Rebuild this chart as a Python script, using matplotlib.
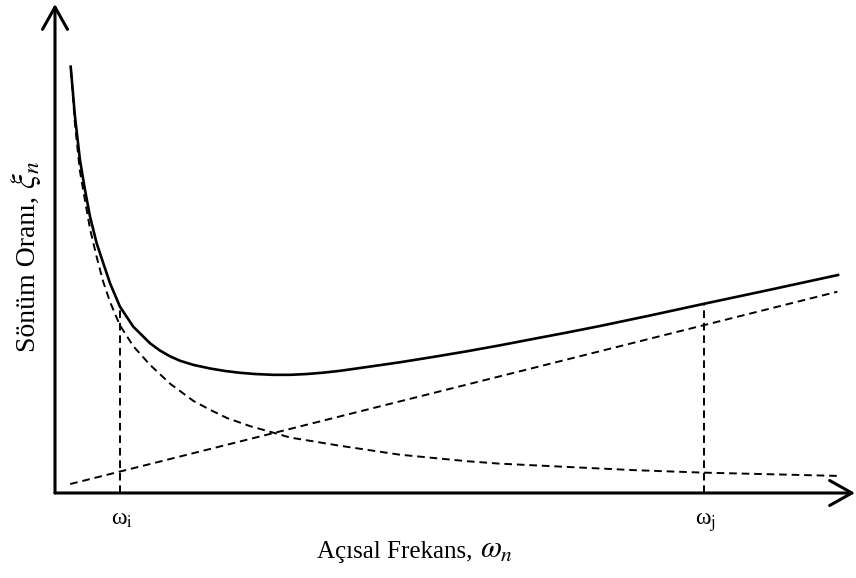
import matplotlib
matplotlib.use('Agg')
import matplotlib.pyplot as plt
from matplotlib.transforms import IdentityTransform

plt.rcParams['font.family'] = 'Liberation Serif'
plt.rcParams['mathtext.fontset'] = 'stix'
plt.rcParams['lines.scale_dashes'] = False

# Rayleigh damping sketch (arbitrary units)
# total damping ratio
w_total = [0.196, 0.25, 0.312, 0.375, 0.438, 0.521, 0.604, 0.688, 0.812,
           0.979, 1.188, 1.312, 1.438, 1.562, 1.725, 1.938, 2.125, 2.312,
           2.5, 2.725, 2.938, 3.15, 3.35, 3.562, 3.9, 4.312, 4.725, 5.15,
           5.562, 5.975, 6.4, 6.812, 7.438, 8.1, 8.938, 9.788]
xi_total = [5.231, 4.617, 4.086, 3.718, 3.390, 3.064, 2.818, 2.573, 2.286,
            2.040, 1.837, 1.748, 1.677, 1.623, 1.573, 1.528, 1.497, 1.475,
            1.460, 1.450, 1.450, 1.460, 1.476, 1.499, 1.546, 1.604, 1.669,
            1.739, 1.812, 1.890, 1.969, 2.049, 2.178, 2.319, 2.494, 2.675]

# mass proportional part
w_mass = [0.20, 0.25, 0.31, 0.38, 0.44, 0.52, 0.60, 0.69, 0.81, 0.98, 1.19,
          1.44, 1.73, 1.94, 2.15, 2.44, 2.73, 2.94, 3.19, 3.56, 3.90, 4.31,
          4.73, 5.15, 5.56, 5.98, 6.40, 7.25, 8.10, 8.94, 9.78]
xi_mass = [5.19, 4.52, 3.96, 3.56, 3.23, 2.90, 2.60, 2.34, 2.06, 1.80, 1.57,
           1.34, 1.13, 1.02, 0.92, 0.82, 0.74, 0.68, 0.64, 0.58, 0.53, 0.47,
           0.43, 0.39, 0.36, 0.34, 0.32, 0.28, 0.25, 0.23, 0.21]

# stiffness proportional part
w_stiff = [0.19, 9.78]
xi_stiff = [0.11, 2.47]

# the two chosen frequencies
w_ij = [0.81, 8.11]
xi_ij = [2.29, 2.32]
ij_labels = ['ω$_{\\mathrm{i}}$', 'ω$_{\\mathrm{j}}$']

fig = plt.figure(figsize=(8.56, 5.78), dpi=100)
ax = fig.add_axes([55/856, 85/578, 800/856, 489/578])
ax.set_xlim(0, 10)
ax.set_ylim(0, 6)
ax.axis('off')

dash = (5.5, 3.5)
ax.plot(w_total, xi_total, color='black', lw=1.9, solid_joinstyle='round')
ax.plot(w_mass, xi_mass, color='black', lw=1.4, dashes=dash)
ax.plot(w_stiff, xi_stiff, color='black', lw=1.4, dashes=dash)
for w, xi, lab in zip(w_ij, xi_ij, ij_labels):
    ax.plot([w, w], [0, xi], color='black', lw=1.4, dashes=dash)
    ax.text(w - 0.11, -0.39, lab, fontsize=17, ha='left', va='baseline')

# axes with open arrow heads
arrow = dict(arrowstyle='->,head_length=1.6,head_width=0.9', lw=2.2,
             color='black', shrinkA=0, shrinkB=0, mutation_scale=10)
ax.annotate('', xy=(10, 0), xytext=(0, 0), arrowprops=arrow, annotation_clip=False)
ax.annotate('', xy=(0, 6), xytext=(0, 0), arrowprops=arrow, annotation_clip=False)


# axis titles: plain words, then a slightly larger math symbol
def title(x, y, words, symbol, size, msize, rot=0, gap=7):
    t = fig.text(x, y, words, fontsize=size, ha='left', va='baseline',
                 rotation=rot, rotation_mode='anchor', transform=IdentityTransform())
    fig.canvas.draw()
    bb = t.get_window_extent()
    if rot == 0:
        x, y = bb.x1 + gap, y
    else:
        x, y = x, bb.y1 + gap
    fig.text(x, y, symbol, fontsize=msize, ha='left', va='baseline',
             rotation=rot, rotation_mode='anchor', transform=IdentityTransform())


title(317, 578 - 558, 'Açısal Frekans,', '$\\omega_n$', 18, 22)
title(35, 578 - 352, 'Sönüm Oranı,', '$\\xi_n$', 20, 24, rot=90)

fig.savefig('out.png', dpi=100)
